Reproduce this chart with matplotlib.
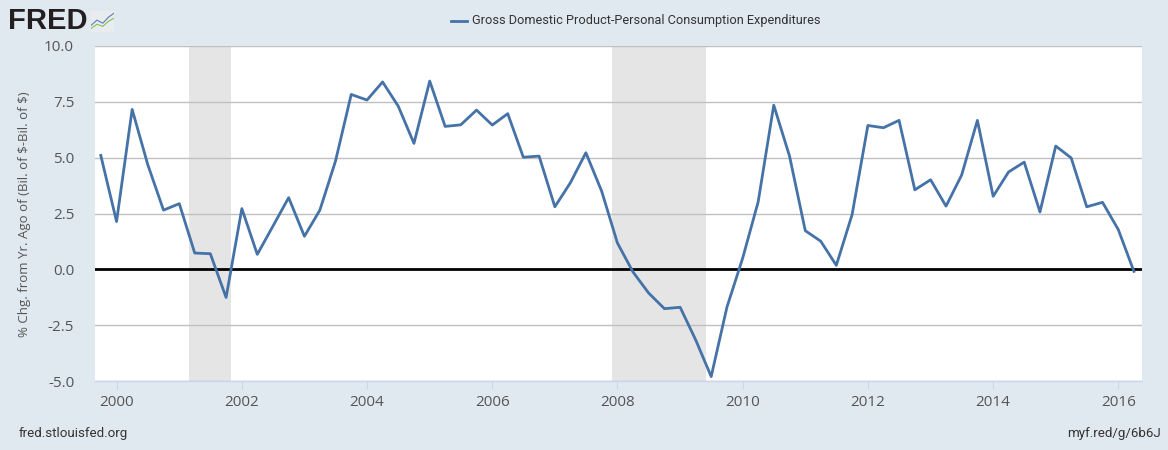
import matplotlib.pyplot as plt
import numpy as np
import pandas as pd

# quarterly % change from a year ago, 1999Q4 .. 2016Q2
start_quarter = "1999-10-01"
values = [5.10,
          2.14, 7.16, 4.69, 2.65,
          2.94, 0.73, 0.70, -1.26,
          2.72, 0.67, 1.93, 3.21,
          1.48, 2.65, 4.84, 7.83,
          7.58, 8.39, 7.31, 5.64,
          8.43, 6.40, 6.47, 7.13,
          6.46, 6.97, 5.02, 5.07,
          2.80, 3.87, 5.22, 3.50,
          1.18, -0.12, -1.06, -1.76,
          -1.70, -3.15, -4.80, -1.69,
          0.51, 3.02, 7.35, 5.07,
          1.73, 1.26, 0.18, 2.45,
          6.44, 6.34, 6.67, 3.56,
          4.01, 2.83, 4.22, 6.67,
          3.27, 4.36, 4.80, 2.57,
          5.52, 4.99, 2.80, 3.00,
          1.78, -0.09]
recessions = [("2001-03-01", "2001-11-01"), ("2007-12-01", "2009-06-01")]
series_name = "Gross Domestic Product-Personal Consumption Expenditures"
y_label = r"% Chg. from Yr. Ago of (Bil. of \$-Bil. of \$)"
y_ticks = [-5.0, -2.5, 0.0, 2.5, 5.0, 7.5, 10.0]
x_years = [2000, 2002, 2004, 2006, 2008, 2010, 2012, 2014, 2016]

dates = pd.date_range(start_quarter, periods=len(values), freq="QS")

bg = "#e1e9f0"
line_col = "#4572a7"
text_col = "#555555"

plt.rcParams['font.family'] = ['Open Sans', 'DejaVu Sans']
narrow = ['Roboto', 'DejaVu Sans']

fig = plt.figure(figsize=(11.68, 4.5), dpi=100, facecolor=bg)
ax = fig.add_axes([0.0813, 0.1533, 0.8964, 0.7445])
ax.set_facecolor("white")

for r0, r1 in recessions:
    ax.axvspan(pd.Timestamp(r0), pd.Timestamp(r1), color="#e5e5e5", lw=0, zorder=1)

for t in y_ticks:
    if t != 0:
        ax.axhline(t, color="#c0c0c0", lw=1, zorder=2)
ax.axhline(0, color="black", lw=2, zorder=3)

ax.plot(dates, values, color=line_col, lw=2, zorder=4)

ax.set_xlim(pd.Timestamp("1999-08-28"), pd.Timestamp("2016-05-18"))
ax.set_ylim(-5, 10)
ax.set_yticks(y_ticks)
ax.set_yticklabels([f"{t:.1f}" for t in y_ticks])
ax.set_xticks([pd.Timestamp(f"{y}-01-01") for y in x_years])
ax.set_xticklabels([str(y) for y in x_years])

for s in ["left", "right", "top"]:
    ax.spines[s].set_visible(False)
ax.spines["bottom"].set_color("#ccd6eb")
ax.spines["bottom"].set_linewidth(1)
ax.tick_params(axis="y", length=0, pad=15, labelsize=11, labelcolor=text_col)
ax.tick_params(axis="x", length=6, color="#ccd6eb", pad=4, labelsize=11, labelcolor=text_col)

fig.text(0.021, 0.524, y_label, rotation=90, va="center", ha="center",
         fontsize=9.5, color=text_col)

# legend at top
fig.add_artist(plt.Line2D([0.386, 0.400], [0.954, 0.954], color=line_col, lw=2,
                          transform=fig.transFigure))
fig.text(0.404, 0.954, series_name, va="center", ha="left", fontsize=9.2,
         color="#333333", family=narrow)

# FRED logo
fig.text(0.007, 0.954, "FRED", va="center", ha="left", fontsize=21, fontweight="heavy",
         color="#231f20", family=['Liberation Sans', 'DejaVu Sans'])
icon = fig.add_axes([0.078, 0.930, 0.020, 0.046])
icon.set_facecolor("#e8ecef")
icon.plot([0, 1, 2, 3, 4], [0.3, 0.55, 0.4, 0.7, 0.9], color="#5b7fb8", lw=0.8)
icon.plot([0, 1, 2, 3, 4], [0.15, 0.35, 0.25, 0.5, 0.65], color="#8bbf4d", lw=0.8)
icon.set_xlim(0, 4)
icon.set_ylim(0, 1)
icon.set_xticks([])
icon.set_yticks([])
for s in icon.spines.values():
    s.set_visible(False)

fig.text(0.016, 0.022, "fred.stlouisfed.org", va="bottom", ha="left", fontsize=9.6,
         color="#333333", family=narrow)
fig.text(0.994, 0.022, "myf.red/g/6b6J", va="bottom", ha="right", fontsize=9.6,
         color="#333333", family=narrow)

fig.savefig("out.png", dpi=100, facecolor=bg)
